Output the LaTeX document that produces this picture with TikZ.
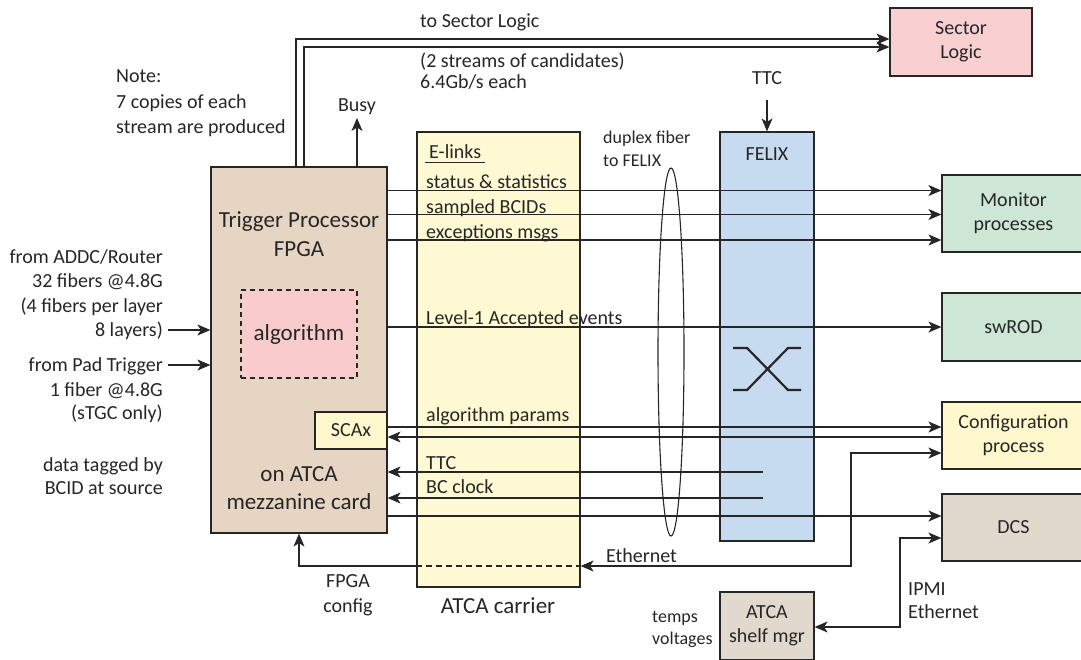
\documentclass[tikz,border=0pt]{standalone}
\usepackage{fontspec}
\setmainfont{Carlito}
\usetikzlibrary{arrows.meta,shapes.geometric,calc}
\definecolor{ink}{HTML}{262626}
\definecolor{tpfill}{HTML}{E6D5C3}
\definecolor{algfill}{HTML}{F8CBCD}
\definecolor{slfill}{HTML}{F9CFD1}
\definecolor{yelfill}{HTML}{FFF8CC}
\definecolor{carfill}{HTML}{FFFAD4}
\definecolor{felfill}{HTML}{C6DBF0}
\definecolor{grnfill}{HTML}{CDE6D5}
\definecolor{dcsfill}{HTML}{E2D9CE}
\tikzset{
  box/.style={draw=ink, line width=1.2pt, inner sep=0pt, align=center,
    font=\fontsize{20}{24}\selectfont, text=ink},
  lbl/.style={inner sep=0pt, font=\fontsize{20}{24}\selectfont, text=ink},
  biglbl/.style={inner sep=0pt, font=\fontsize{23}{28}\selectfont, text=ink},
  smalllbl/.style={inner sep=0pt, font=\fontsize{18}{23}\selectfont, text=ink},
  wire/.style={draw=ink, line width=1.1pt},
  arr/.style={wire, -{Stealth[length=13pt,width=11pt,inset=3.5pt]}},
  darr/.style={wire, {Stealth[length=13pt,width=11pt,inset=3.5pt]}-{Stealth[length=13pt,width=11pt,inset=3.5pt]}},
}
\begin{document}
\begin{tikzpicture}[x=1pt,y=-1pt]
\useasboundingbox (0,0) rectangle (1081,659);

% ---- main blocks ----
\node[box, fill=carfill, minimum width=163pt, minimum height=455pt] (carrier) at (498.5,359.5) {};
\node[box, fill=felfill, minimum width=94pt, minimum height=409pt] (felix) at (767,336.5) {};
\node[box, fill=tpfill, minimum width=176pt, minimum height=366pt] (tp) at (299,350) {};
\node[box, fill=algfill, dash pattern=on 5pt off 4pt, minimum width=116pt, minimum height=88pt,
  font=\fontsize{23}{28}\selectfont] (alg) at (299,334) {algorithm};
\node[box, fill=yelfill, minimum width=72pt, minimum height=37pt] (scax) at (351,430.5) {SCAx};

\node[box, fill=slfill, minimum width=142pt, minimum height=68pt] (sector) at (961,42) {Sector\\Logic};
\node[box, fill=grnfill, minimum width=143pt, minimum height=77pt] (monitor) at (1013.5,213.5) {Monitor\\processes};
\node[box, fill=grnfill, minimum width=143pt, minimum height=68pt] (swrod) at (1013.5,327) {swROD};
\node[box, fill=yelfill, minimum width=143pt, minimum height=67pt] (config) at (1013.5,435.5) {Configuration\\process};
\node[box, fill=dcsfill, minimum width=143pt, minimum height=67pt] (dcs) at (1013.5,527.5) {DCS};
\node[box, fill=dcsfill, minimum width=94pt, minimum height=68pt] (shelf) at (767,626) {ATCA\\shelf mgr};

% duplex fibre bundle
\node[draw=ink, line width=1.1pt, ellipse, inner sep=0pt, minimum width=26pt, minimum height=368pt] (fiber) at (671,352) {};

% crossover symbol inside FELIX
\draw[ink, line width=2.2pt] (733,348) -- (747,348) -- (788,390) -- (801,390);
\draw[ink, line width=2.2pt] (733,390) -- (747,390) -- (788,348) -- (801,348);

% ---- signal levels ----
\foreach \n/\yy in {stat/190.5, bcid/214.5, exc/240, lone/327, parout/427, parin/437,
                    dcsl/516, ethcfg/453, ipmi/538}
  \coordinate (y\n) at (0,\yy);
\coordinate (so) at (296,39);
\coordinate (si) at (304,47);
\coordinate (busytop) at (357,118);
\coordinate (ttctop) at (767,100);
\coordinate (inrouter) at (168,330);
\coordinate (inpad) at (168,365);
\coordinate (ttcsrc) at (763,472);
\coordinate (bcsrc) at (763,498);
\coordinate (ethbend) at (851,566);
\coordinate (ipmibend) at (900,627);

% ---- connectors ----
\draw[arr] (tp.north -| so) |- (sector.west |- so);
\draw[arr] (tp.north -| si) |- (sector.west |- si);
\draw[arr] (tp.north -| busytop) -- (busytop);
\draw[arr] (ttctop) -- (felix.north);
\draw[arr] (inrouter) -- (tp.west |- inrouter);
\draw[arr] (inpad) -- (tp.west |- inpad);

\draw[arr] (tp.east |- ystat) -- (monitor.west |- ystat);
\draw[arr] (tp.east |- ybcid) -- (monitor.west |- ybcid);
\draw[arr] (tp.east |- yexc) -- (monitor.west |- yexc);
\draw[arr] (tp.east |- ylone) -- (swrod.west |- ylone);
\draw[arr] (scax.east |- yparout) -- (config.west |- yparout);
\draw[arr] (config.west |- yparin) -- (scax.east |- yparin);
\draw[arr] (ttcsrc) -- (tp.east |- ttcsrc);
\draw[arr] (bcsrc) -- (tp.east |- bcsrc);
\draw[arr] (tp.east |- ydcsl) -- (dcs.west |- ydcsl);

\draw[darr] (carrier.east |- ethbend) -- (ethbend) |- (config.west |- yethcfg);
\draw[wire, dash pattern=on 6pt off 4pt] (carrier.west |- ethbend) -- (carrier.east |- ethbend);
\draw[arr] (carrier.west |- ethbend) -| (tp.south);
\draw[darr] (shelf.east |- ipmibend) -- (ipmibend) |- (dcs.west |- yipmi);

% ---- texts ----
\node[biglbl, anchor=base] (tpa) at (299,227) {Trigger Processor};
\node[biglbl, anchor=base] (tpb) at (299,256) {FPGA};
\node[biglbl, anchor=base] (tpc) at (299,481) {on ATCA};
\node[biglbl, anchor=base] (tpd) at (299,509) {mezzanine card};
\node[biglbl, anchor=base] (carlbl) at (498,613) {ATCA carrier};

\node[lbl, anchor=base west] (tosl) at (420,27) {to Sector Logic};
\node[lbl, anchor=base west] (streams) at (420,67) {(2 streams of candidates)};
\node[lbl, anchor=base west] (rate) at (420,88) {6.4Gb/s each};

\node[lbl, anchor=base west] (notea) at (116,82) {Note:};
\node[lbl, anchor=base west] (noteb) at (116,108) {7 copies of each};
\node[lbl, anchor=base west] (notec) at (116,133) {stream are produced};

\node[lbl, anchor=base east] (ina) at (163,263) {from ADDC/Router};
\node[lbl, anchor=base east] (inb) at (163,287) {32 fibers @4.8G};
\node[lbl, anchor=base east] (inc) at (163,312) {(4 fibers per layer};
\node[lbl, anchor=base east] (ind) at (163,336) {8 layers)};
\node[lbl, anchor=base east] (ine) at (163,371) {from Pad Trigger};
\node[lbl, anchor=base east] (inf) at (163,396) {1 fiber @4.8G};
\node[lbl, anchor=base east] (ing) at (163,419) {(sTGC only)};
\node[lbl, anchor=base east] (inh) at (163,471) {data tagged by};
\node[lbl, anchor=base east] (ini) at (163,494) {BCID at source};

\node[lbl, anchor=base] (busy) at (357,111) {Busy};
\node[lbl, anchor=base] (ttclbl) at (767,84) {TTC};
\node[lbl, anchor=base] (felixlbl) at (767,160) {FELIX};

\node[lbl, anchor=base west] (elinks) at (429,158) {E-links};
\draw[ink, line width=1pt] ($(elinks.base west)+(-4,4)$) -- ($(elinks.base east)+(4,4)$);

\node[lbl, anchor=base west] (lstat) at (426,188) {status \& statistics};
\node[lbl, anchor=base west] (lbcid) at (426,213) {sampled BCIDs};
\node[lbl, anchor=base west] (lexc) at (426,238) {exceptions msgs};
\node[lbl, anchor=base west] (llone) at (426,324) {Level-1 Accepted events};
\node[lbl, anchor=base west] (lpar) at (426,421) {algorithm params};
\node[lbl, anchor=base west] (lttc) at (426,469) {TTC};
\node[lbl, anchor=base west] (lbc) at (426,493) {BC clock};
\node[lbl, anchor=base west] (leth) at (606,562) {Ethernet};

\node[smalllbl, anchor=base west] (dupa) at (603,143) {duplex fiber};
\node[smalllbl, anchor=base west] (dupb) at (603,166) {to FELIX};

\node[lbl, anchor=base] (cfga) at (348,587) {FPGA};
\node[lbl, anchor=base] (cfgb) at (348,612) {config};

\node[smalllbl, anchor=base west] (tempa) at (652,622) {temps};
\node[smalllbl, anchor=base west] (tempb) at (652,644) {voltages};

\node[lbl, anchor=base west] (ipmia) at (908,595) {IPMI};
\node[lbl, anchor=base west] (ipmib) at (908,618) {Ethernet};
\end{tikzpicture}
\end{document}
